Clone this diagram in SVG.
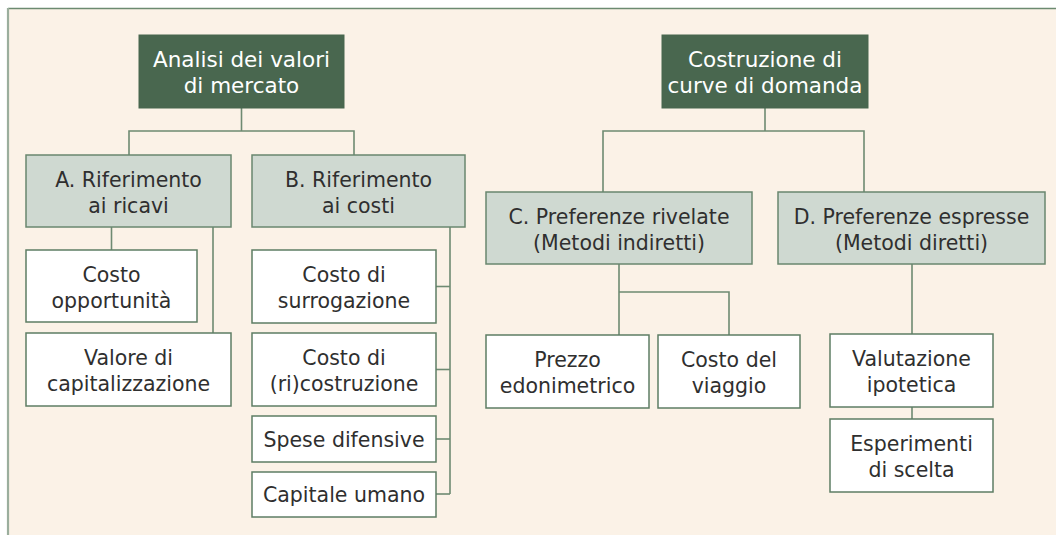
<svg xmlns="http://www.w3.org/2000/svg" width="1056" height="535" viewBox="0 0 1056 535">
<style>
  .title { fill: #49674F; stroke: #49674F; stroke-width: 1; }
  .cat { fill: #CFD9D1; stroke: #6A876F; stroke-width: 1.5; }
  .leaf { fill: #FFFFFF; stroke: #5E7D64; stroke-width: 1.5; }
  text { font-family: "DejaVu Sans", "Liberation Sans", sans-serif; font-size: 20.5px; text-anchor: middle; fill: #2F2F2F; }
  .tt { fill: #FFFFFF; font-size: 21.5px; }
  .conn path { fill: none; stroke: #6E8A72; stroke-width: 1.6; }
</style>
<rect x="0" y="0" width="1056" height="535" fill="#FFFFFF"/>
<rect x="8" y="8" width="1048" height="527" fill="#FBF2E7"/>
<line x1="8" y1="8.5" x2="1056" y2="8.5" stroke="#6C8A70" stroke-width="1.4"/>
<line x1="8" y1="8" x2="8" y2="535" stroke="#9BAE9D" stroke-width="2.2"/>

<g class="conn" id="connectors">
  <path d="M241.5,108 V131"/>
  <path d="M129,155 V131 H354 V155"/>
  <path d="M111.5,227 V250"/>
  <path d="M213,227 V333"/>
  <path d="M450,227 V494"/>
  <path d="M436,286.5 H450"/>
  <path d="M436,369.5 H450"/>
  <path d="M436,439 H450"/>
  <path d="M436,494 H450"/>
  <path d="M765,108 V131"/>
  <path d="M603,192 V131 H864 V192"/>
  <path d="M619,264 V335"/>
  <path d="M619,292 H729 V335"/>
  <path d="M912,264 V334"/>
  <path d="M912,407 V419"/>
</g>

<g id="analisi">
  <rect class="title" x="139" y="35" width="205" height="73"/>
  <text class="tt" x="241.5" y="66.5">Analisi dei valori</text>
  <text class="tt" x="241.5" y="92.5">di mercato</text>
</g>
<g id="costruzione">
  <rect class="title" x="662" y="35" width="206" height="73"/>
  <text class="tt" x="765" y="66.5">Costruzione di</text>
  <text class="tt" x="765" y="92.5">curve di domanda</text>
</g>

<g id="ricavi">
  <rect class="cat" x="26" y="155" width="205" height="72"/>
  <text x="128.5" y="186.5">A. Riferimento</text>
  <text x="128.5" y="212.5">ai ricavi</text>
</g>
<g id="costi">
  <rect class="cat" x="252" y="155" width="213" height="72"/>
  <text x="358.5" y="186.5">B. Riferimento</text>
  <text x="358.5" y="212.5">ai costi</text>
</g>
<g id="rivelate">
  <rect class="cat" x="486" y="192" width="266" height="72"/>
  <text x="619" y="223.5">C. Preferenze rivelate</text>
  <text x="619" y="249.5">(Metodi indiretti)</text>
</g>
<g id="espresse">
  <rect class="cat" x="778" y="192" width="267" height="72"/>
  <text x="911.5" y="223.5">D. Preferenze espresse</text>
  <text x="911.5" y="249.5">(Metodi diretti)</text>
</g>

<g id="opportunita">
  <rect class="leaf" x="26" y="250" width="171" height="72"/>
  <text x="111.5" y="281.5">Costo</text>
  <text x="111.5" y="307.5">opportunità</text>
</g>
<g id="capitalizzazione">
  <rect class="leaf" x="26" y="333" width="205" height="73"/>
  <text x="128.5" y="365">Valore di</text>
  <text x="128.5" y="391">capitalizzazione</text>
</g>
<g id="surrogazione">
  <rect class="leaf" x="252" y="250" width="184" height="73"/>
  <text x="344" y="282">Costo di</text>
  <text x="344" y="308">surrogazione</text>
</g>
<g id="ricostruzione">
  <rect class="leaf" x="252" y="333" width="184" height="73"/>
  <text x="344" y="365">Costo di</text>
  <text x="344" y="391">(ri)costruzione</text>
</g>
<g id="difensive">
  <rect class="leaf" x="252" y="416" width="184" height="46"/>
  <text x="344" y="446.5">Spese difensive</text>
</g>
<g id="umano">
  <rect class="leaf" x="252" y="472" width="184" height="45"/>
  <text x="344" y="502">Capitale umano</text>
</g>
<g id="edonimetrico">
  <rect class="leaf" x="486" y="335" width="163" height="73"/>
  <text x="567.5" y="367">Prezzo</text>
  <text x="567.5" y="393">edonimetrico</text>
</g>
<g id="viaggio">
  <rect class="leaf" x="658" y="335" width="142" height="73"/>
  <text x="729" y="367">Costo del</text>
  <text x="729" y="393">viaggio</text>
</g>
<g id="ipotetica">
  <rect class="leaf" x="830" y="334" width="163" height="73"/>
  <text x="911.5" y="366">Valutazione</text>
  <text x="911.5" y="392">ipotetica</text>
</g>
<g id="scelta">
  <rect class="leaf" x="830" y="419" width="163" height="73"/>
  <text x="911.5" y="451">Esperimenti</text>
  <text x="911.5" y="477">di scelta</text>
</g>
</svg>
